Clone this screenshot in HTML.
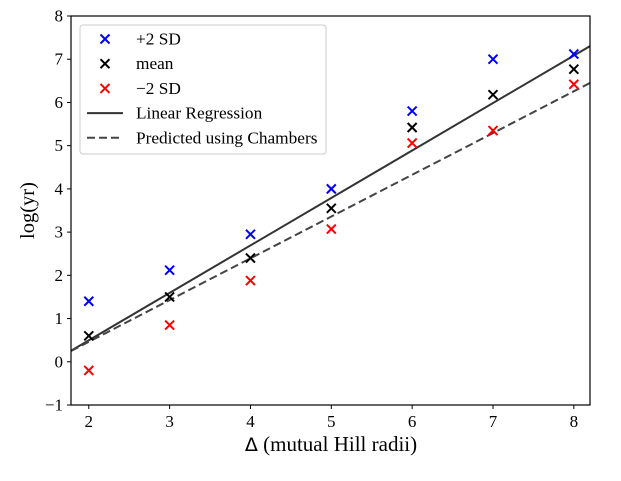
<!DOCTYPE html>
<html><head><meta charset="utf-8"><style>
body{margin:0;background:#fff}
svg text{font-family:"Liberation Serif",serif;fill:#000}
</style></head><body>
<svg id="c" width="621" height="476"></svg>
<script>
const xs=[2,3,4,5,6,7,8];
const plus2=[1.4,2.12,2.95,4.0,5.8,7.0,7.12];
const meanV=[0.6,1.5,2.4,3.55,5.42,6.18,6.77];
const minus2=[-0.2,0.85,1.88,3.07,5.06,5.35,6.42];
const regLine=[1.098,-1.70];
const chamLine=[0.966,-1.47];
const xTicks=[2,3,4,5,6,7,8];
const yTicks=[-1,0,1,2,3,4,5,6,7,8];
const L=71,R=590,T=16,B=405,X0=1.78,X1=8.2,Y0=-1,Y1=8;
const sx=v=>L+(v-X0)/(X1-X0)*(R-L), sy=v=>B-(v-Y0)/(Y1-Y0)*(B-T);
const svg=document.getElementById('c'),NS='http://www.w3.org/2000/svg';
function mk(t,a,p){const e=document.createElementNS(NS,t);for(const k in a)e.setAttribute(k,a[k]);(p||svg).appendChild(e);return e;}
function line(m,name,dash){
const g=mk('line',{x1:sx(X0),y1:sy(m[0]*X0+m[1]),x2:sx(X1),y2:sy(m[0]*X1+m[1]),stroke:dash?'#444':'#333','stroke-width':2,'stroke-dasharray':dash?'8,4':'none'});

}
line(regLine,'regression-line',false);
line(chamLine,'chambers-line',true);
function cross(x,y,c,name){const s=4.5;const g=mk('path',{d:`M${x-s},${y-s}L${x+s},${y+s}M${x-s},${y+s}L${x+s},${y-s}`,stroke:c,'stroke-width':2});

}
xs.forEach((x,i)=>{cross(sx(x),sy(plus2[i]),'#00f','plus2sd-point');cross(sx(x),sy(meanV[i]),'#000','mean-point');cross(sx(x),sy(minus2[i]),'#f00','minus2sd-point');});
const fr=mk('rect',{x:L,y:T,width:R-L,height:B-T,fill:'none',stroke:'#000','stroke-width':1.2});


xTicks.forEach(v=>{mk('line',{x1:sx(v),x2:sx(v),y1:B,y2:B+4,stroke:'#000'});const t=mk('text',{x:sx(v),y:B+22,'text-anchor':'middle','font-size':17});t.textContent=v;

});
yTicks.forEach(v=>{mk('line',{x1:L-4,x2:L,y1:sy(v),y2:sy(v),stroke:'#000'});const t=mk('text',{x:L-8,y:sy(v)+5.5,'text-anchor':'end','font-size':17});t.textContent=v<0?'\u2212'+(-v):v;

});
const xt=mk('text',{x:331,y:451,'text-anchor':'middle','font-size':21});xt.innerHTML='<tspan font-family="DejaVu Sans, sans-serif" font-size="19">\u0394</tspan> (mutual Hill radii)';


const yt=mk('text',{x:0,y:0,'text-anchor':'middle','font-size':20.5,transform:`translate(34,${(T+B)/2}) rotate(-90)`});yt.textContent='log(yr)';


const lg=mk('g',{});


mk('rect',{x:80,y:25,width:246,height:129,rx:3,fill:'#fff','fill-opacity':0.85,stroke:'#ccc'},lg);
const items=[['+2 SD','#00f','x'],['mean','#000','x'],['\u22122 SD','#f00','x'],['Linear Regression','#333','l'],['Predicted using Chambers','#444','d']];
items.forEach((it,i)=>{const y=39+i*24.7;
if(it[2]==='x'){const s=4.5;mk('path',{d:`M${105-s},${y-s}L${105+s},${y+s}M${105-s},${y+s}L${105+s},${y-s}`,stroke:it[1],'stroke-width':2},lg);}
else mk('line',{x1:87,x2:123,y1:y,y2:y,stroke:it[1],'stroke-width':2,'stroke-dasharray':it[2]==='d'?'8,4':'none'},lg);
const t=mk('text',{x:136,y:y+5.5,'font-size':17.3},lg);t.textContent=it[0];

});
</script>
</body></html>
